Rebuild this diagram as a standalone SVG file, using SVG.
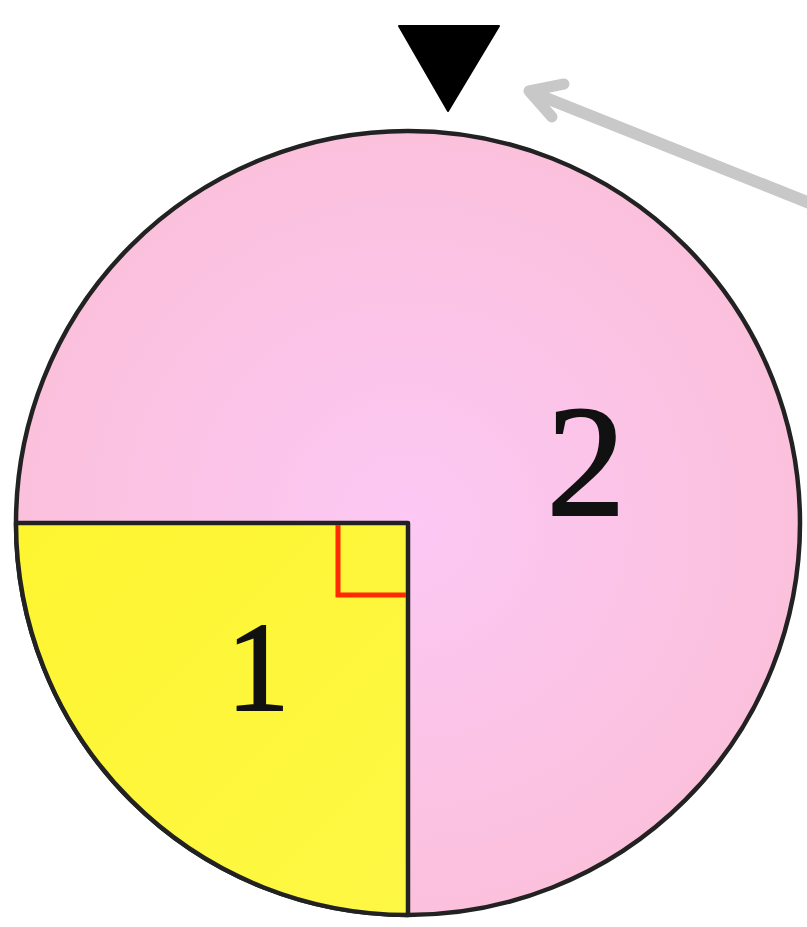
<svg xmlns="http://www.w3.org/2000/svg" width="807" height="927" viewBox="0 0 807 927">
<defs>
<radialGradient id="pinkG" cx="408" cy="523" r="392" gradientUnits="userSpaceOnUse">
<stop offset="0" stop-color="#fcc8f4"/>
<stop offset="1" stop-color="#fbc0dc"/>
</radialGradient>
<linearGradient id="yelG" x1="0" y1="0" x2="1" y2="1">
<stop offset="0" stop-color="#fdf530"/>
<stop offset="1" stop-color="#fdf845"/>
</linearGradient>
<style>
.num{font-family:"Liberation Serif","Times New Roman",serif;fill:#111;stroke:#111;stroke-width:2;text-anchor:middle}
.edge{stroke:#222;stroke-width:4.5;stroke-linejoin:round}
</style>
</defs>
<rect width="807" height="927" fill="#fff"/>
<g id="spinner">
<circle id="section2" cx="408" cy="523" r="392" fill="url(#pinkG)" class="edge"/>
<path id="section1" d="M408 523 L16 523 A392 392 0 0 0 408 915 Z" fill="url(#yelG)" class="edge"/>
<path id="rightAngle" d="M338 525 V595 H406" fill="none" stroke="#ff2a00" stroke-width="5"/>
<text class="num" x="586" y="515" font-size="158">2</text>
<text class="num" x="258" y="710" font-size="126">1</text>
</g>
<g id="pointer">
<polygon points="399,26 499,26 448,111" fill="#000" stroke="#000" stroke-width="2" stroke-linejoin="round"/>
</g>
<g id="connectors">
<line x1="812" y1="204" x2="531" y2="92" stroke="#c8c8c8" stroke-width="12"/>
<polyline points="564,84 529,91 552,117" fill="none" stroke="#c8c8c8" stroke-width="11" stroke-linecap="round" stroke-linejoin="round"/>
</g>
</svg>
